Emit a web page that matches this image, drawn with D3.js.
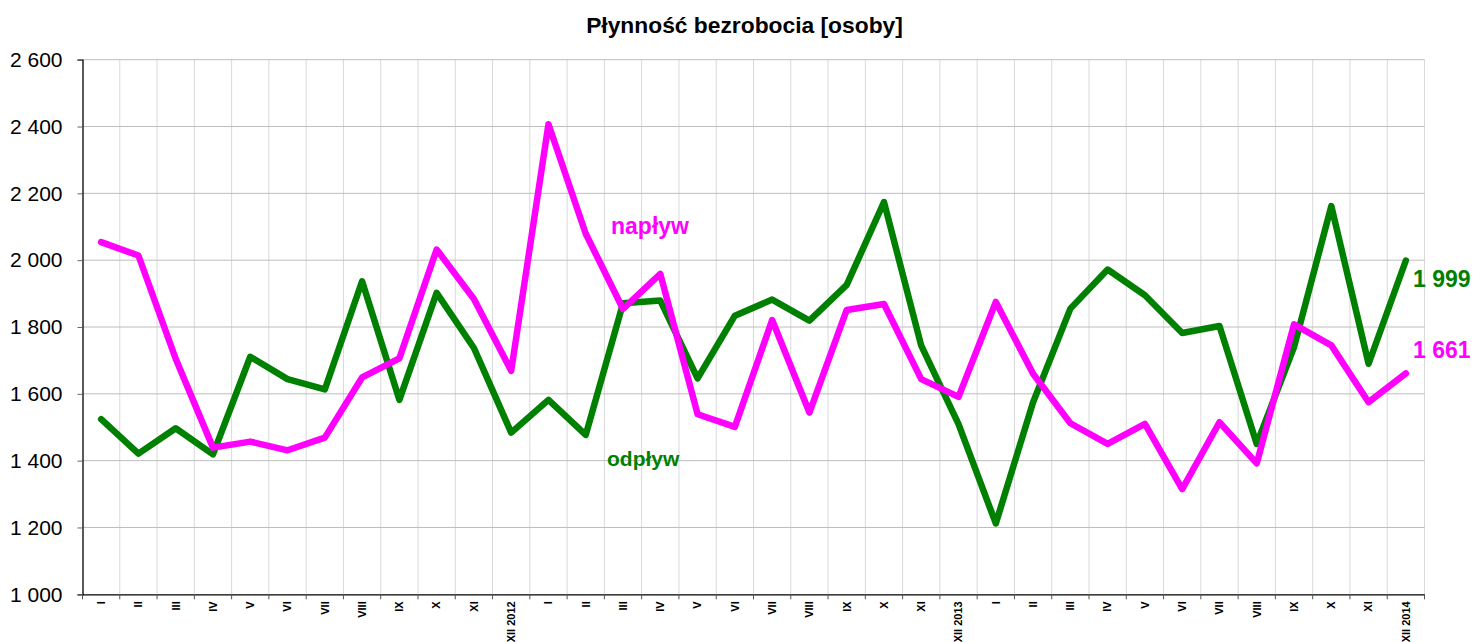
<!DOCTYPE html>
<html>
<head>
<meta charset="utf-8">
<script src="https://cdn.jsdelivr.net/npm/d3@7"></script>
<style>
  html, body { margin: 0; padding: 0; background: #fff; }
  svg { display: block; font-family: "Liberation Sans", Arial, sans-serif; }
</style>
</head>
<body>
<svg id="chart" width="1474" height="642"></svg>
<script>
const months = ["I","II","III","IV","V","VI","VII","VIII","IX","X","XI","XII 2012",
                "I","II","III","IV","V","VI","VII","VIII","IX","X","XI","XII 2013",
                "I","II","III","IV","V","VI","VII","VIII","IX","X","XI","XII 2014"];
const categories = months.map((m, i) => i + ":" + m);

const odplyw = [1524,1421,1497,1419,1711,1644,1613,1937,1582,1902,1737,1484,
                1582,1477,1871,1879,1646,1834,1882,1819,1926,2174,1744,1509,
                1212,1575,1855,1972,1895,1782,1803,1450,1740,2162,1690,1999];
const naplyw = [2054,2014,1705,1439,1457,1431,1469,1649,1706,2032,1884,1669,
                2407,2079,1854,1959,1539,1501,1821,1544,1851,1869,1644,1591,
                1875,1660,1512,1450,1510,1315,1515,1392,1808,1745,1575,1661];
const yTicks = [1000,1200,1400,1600,1800,2000,2200,2400,2600];

const svg = d3.select("#chart");
const mLeft = 82.5, mRight = 1424.5, mTop = 59.7, mBottom = 594.3;

const x = d3.scaleBand().domain(categories).range([mLeft, mRight]).padding(0);
const y = d3.scaleLinear().domain([1000, 2600]).range([mBottom, mTop]);
const fmt = v => d3.format(",")(v).replace(/,/g, " ");

// vertical gridlines (category boundaries)
svg.append("g").selectAll("line")
  .data(d3.range(1, categories.length + 1))
  .join("line")
  .attr("x1", i => mLeft + x.bandwidth() * i)
  .attr("x2", i => mLeft + x.bandwidth() * i)
  .attr("y1", mTop).attr("y2", mBottom)
  .attr("stroke", "#d9d9d9").attr("stroke-width", 1);

// horizontal gridlines
svg.append("g").selectAll("line")
  .data(yTicks.filter(t => t > 1000))
  .join("line")
  .attr("x1", mLeft).attr("x2", mRight)
  .attr("y1", d => y(d)).attr("y2", d => y(d))
  .attr("stroke", "#bdbdbd").attr("stroke-width", 1);

// Y axis
const yAxis = d3.axisLeft(y).tickValues(yTicks).tickFormat(fmt).tickSize(5).tickPadding(15);
const gy = svg.append("g").attr("transform", `translate(${mLeft},0)`).call(yAxis);
gy.select(".domain").attr("stroke", "#000").attr("stroke-width", 1.3);
gy.selectAll(".tick line").attr("stroke", "#666");
gy.selectAll("text").attr("font-size", 21).attr("fill", "#000")
  .attr("font-family", "'Liberation Sans', Arial, sans-serif");

// X axis
const xAxis = d3.axisBottom(x).tickSize(0).tickFormat(d => d.split(":")[1]);
const gx = svg.append("g").attr("transform", `translate(0,${mBottom})`).call(xAxis);
gx.select(".domain").attr("stroke", "#000").attr("stroke-width", 1.3);
gx.selectAll(".tick text")
  .attr("font-size", 11).attr("font-weight", "bold").attr("fill", "#000")
  .attr("font-family", "'Liberation Sans', Arial, sans-serif")
  .attr("transform", "rotate(-90)")
  .attr("text-anchor", "end")
  .attr("x", -7).attr("y", 0).attr("dy", "0.35em");
// x boundary ticks
svg.append("g").selectAll("line")
  .data(d3.range(categories.length + 1))
  .join("line")
  .attr("x1", i => mLeft + x.bandwidth() * i)
  .attr("x2", i => mLeft + x.bandwidth() * i)
  .attr("y1", mBottom).attr("y2", mBottom + 5)
  .attr("stroke", "#555").attr("stroke-width", 1);

// lines
const line = d3.line()
  .x((d, i) => x(categories[i]) + x.bandwidth() / 2)
  .y(d => y(d))
  .curve(d3.curveLinear);

svg.append("path").datum(odplyw)
  .attr("d", line).attr("fill", "none")
  .attr("stroke", "#008000").attr("stroke-width", 6.5)
  .attr("stroke-linejoin", "round").attr("stroke-linecap", "round");

svg.append("path").datum(naplyw)
  .attr("d", line).attr("fill", "none")
  .attr("stroke", "#ff00ff").attr("stroke-width", 6.5)
  .attr("stroke-linejoin", "round").attr("stroke-linecap", "round");

// title
svg.append("text").attr("x", 744.5).attr("y", 33)
  .attr("text-anchor", "middle").attr("font-size", 22.8).attr("font-weight", "bold")
  .attr("fill", "#000").text("Płynność bezrobocia [osoby]");

// series labels
svg.append("text").attr("x", 611).attr("y", 234)
  .attr("font-size", 23).attr("font-weight", "bold").attr("fill", "#ff00ff").text("napływ");
svg.append("text").attr("x", 607).attr("y", 466)
  .attr("font-size", 21).attr("font-weight", "bold").attr("fill", "#008000").text("odpływ");

// end value labels
const lastIdx = categories.length - 1;
svg.append("text").attr("x", 1413).attr("y", 287)
  .attr("font-size", 23).attr("font-weight", "bold").attr("fill", "#008000")
  .text(fmt(odplyw[lastIdx]));
svg.append("text").attr("x", 1413).attr("y", 358)
  .attr("font-size", 23).attr("font-weight", "bold").attr("fill", "#ff00ff")
  .text(fmt(naplyw[lastIdx]));
</script>
</body>
</html>
